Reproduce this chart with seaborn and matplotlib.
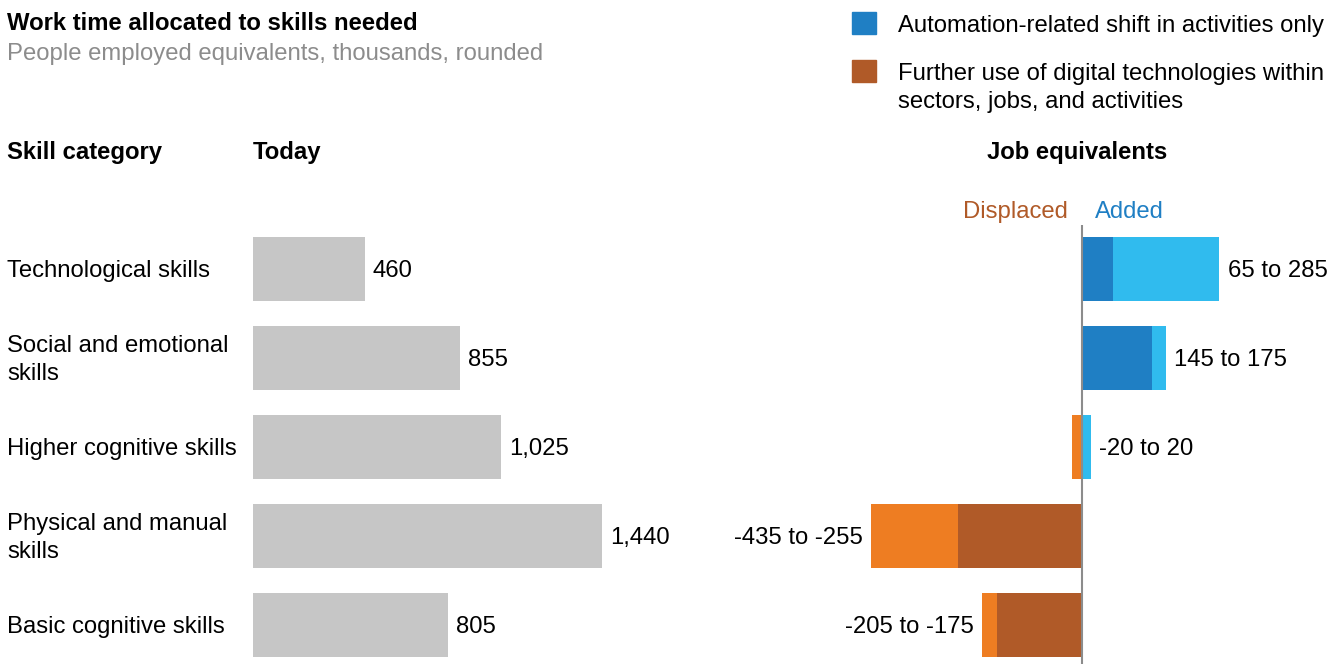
import matplotlib
matplotlib.use("Agg")
import matplotlib.pyplot as plt
import matplotlib.patches as mpatches
import seaborn as sns
import pandas as pd

sns.set_style("white")
plt.rcParams['font.family'] = ['Liberation Sans', 'DejaVu Sans']
plt.rcParams['text.color'] = 'black'

# data
skills = ["Technological skills", "Social and emotional\nskills", "Higher cognitive skills",
          "Physical and manual\nskills", "Basic cognitive skills"]
today = [460, 855, 1025, 1440, 805]
today_labels = ["460", "855", "1,025", "1,440", "805"]
added_auto = [65, 145, 0, 0, 0]
added_total = [285, 175, 20, 0, 0]
displaced_auto = [0, 0, 0, -255, -175]
displaced_total = [0, 0, -20, -435, -205]
range_labels = ["65 to 285", "145 to 175", "-20 to 20", "-435 to -255", "-205 to -175"]

c_gray = "#C6C6C6"
c_dblue = "#1F7FC4"
c_lblue = "#30BBEE"
c_brown = "#B05A28"
c_orange = "#EE7D22"

FS = 17.2
LS = 1.37

W, H = 1344, 664
fig = plt.figure(figsize=(W / 100, H / 100), dpi=100)


def fx(x):
    return x / W


def fy(y):
    # small downward nudge so text centres line up with the bars
    return 1 - (y + 2) / H


df = pd.DataFrame({"skill": skills, "today": today, "added_auto": added_auto,
                   "added_total": added_total, "displaced_auto": displaced_auto,
                   "displaced_total": displaced_total})

# rows: centre of first row at 269px, step 89px
top_px, bot_px = 225, 664
y_top = -(269 - top_px) / 89
y_bot = (bot_px - 269) / 89
bw = 0.71
dy = 2 / 89

# left panel (today)
axl = fig.add_axes([fx(253), 0, fx(700 - 253), (bot_px - top_px) / H])
sns.barplot(data=df, x="today", y="skill", orient="h", color=c_gray, width=bw,
            saturation=1, linewidth=0, ax=axl)
axl.set_xlim(0, (700 - 253) / 0.2424)
axl.set_ylim(y_bot, y_top)
for i, v in enumerate(today):
    axl.text(v + 33, i + dy, today_labels[i], va="center", ha="left", fontsize=FS)
axl.axis("off")

# right panel (job equivalents)
axr = fig.add_axes([fx(700), 0, fx(W - 700), (bot_px - top_px) / H])
sc = 0.484
for col, c in [("added_total", c_lblue), ("added_auto", c_dblue),
               ("displaced_total", c_orange), ("displaced_auto", c_brown)]:
    sns.barplot(data=df, x=col, y="skill", orient="h", color=c, width=bw,
                saturation=1, linewidth=0, ax=axr)
axr.set_xlim(-(1081.5 - 700) / sc, (W - 1081.5) / sc)
axr.set_ylim(y_bot, y_top)
axr.axvline(0, color="#8C8C8C", lw=1.5, zorder=5)
for i, lab in enumerate(range_labels):
    if added_total[i] > 0:
        axr.text(added_total[i] + 17, i + dy, lab, va="center", ha="left", fontsize=FS)
    else:
        axr.text(displaced_total[i] - 17, i + dy, lab, va="center", ha="right", fontsize=FS)
axr.axis("off")

# row labels
for i, s in enumerate(skills):
    fig.text(fx(7), fy(269 + 89 * i), s, va="center", ha="left", fontsize=FS,
             linespacing=LS)

# titles
fig.text(fx(7), fy(22), "Work time allocated to skills needed", fontsize=FS,
         fontweight="bold", va="center")
fig.text(fx(7), fy(52), "People employed equivalents, thousands, rounded", fontsize=FS,
         color="#8C8C8C", va="center")
fig.text(fx(7), fy(151), "Skill category", fontsize=FS, fontweight="bold", va="center")
fig.text(fx(253), fy(151), "Today", fontsize=FS, fontweight="bold", va="center")
fig.text(fx(1077), fy(151), "Job equivalents", fontsize=FS, fontweight="bold",
         va="center", ha="center")
fig.text(fx(1068), fy(210), "Displaced", fontsize=FS, color=c_brown, va="center",
         ha="right")
fig.text(fx(1095), fy(210), "Added", fontsize=FS, color=c_dblue, va="center", ha="left")

# legend
for y0, c in [(12, c_dblue), (60, c_brown)]:
    fig.patches.append(mpatches.Rectangle((fx(852), 1 - (y0 + 22) / H), fx(24), 22 / H,
                                          color=c, transform=fig.transFigure))
fig.text(fx(898), fy(24), "Automation-related shift in activities only", fontsize=FS,
         va="center")
fig.text(fx(898), fy(86), "Further use of digital technologies within\nsectors, jobs, and activities",
         fontsize=FS, va="center", linespacing=LS)

fig.savefig("out.png", dpi=100)
